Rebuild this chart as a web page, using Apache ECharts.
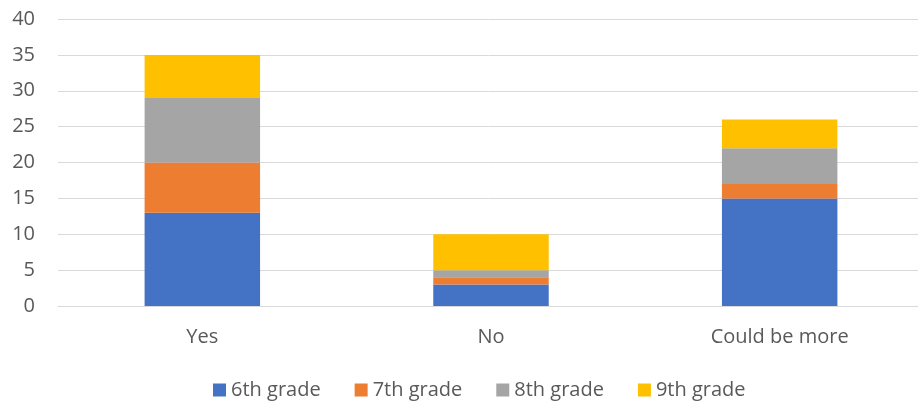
<!DOCTYPE html>
<html><head><meta charset="utf-8">
<script src="https://cdn.jsdelivr.net/npm/echarts@6/dist/echarts.min.js"></script>
<style>html,body{margin:0;padding:0;background:#fff}#c{width:918px;height:405px}</style>
</head><body><div id="c"></div>
<script>
const categories = ['Yes', 'No', 'Could be more'];
const seriesNames = ['6th grade', '7th grade', '8th grade', '9th grade'];
const grade6 = [13, 3, 15];
const grade7 = [7, 1, 2];
const grade8 = [9, 1, 5];
const grade9 = [6, 5, 4];
const colors = ['#4472C4', '#ED7D31', '#A5A5A5', '#FFC000'];
const values = [grade6, grade7, grade8, grade9];
const chart = echarts.init(document.getElementById('c'));
const font = 'Open Sans';
chart.setOption({
  animation: false,
  grid: {left: 58, width: 866, top: 19, bottom: 99, outerBoundsMode: 'none', containLabel: false},
  legend: {
    top: 380, left: 213, padding: 0, itemWidth: 13, itemHeight: 13, itemGap: 34,
    icon: 'rect',
    textStyle: {color: '#595959', fontSize: 20, fontFamily: font}
  },
  xAxis: {
    type: 'category', data: categories,
    axisLine: {lineStyle: {color: '#D9D9D9', width: 1}},
    axisTick: {show: false},
    axisLabel: {color: '#595959', fontSize: 20, fontFamily: font, margin: 21}
  },
  yAxis: {
    type: 'value', min: 0, max: 40, interval: 5,
    axisLine: {show: false}, axisTick: {show: false},
    splitLine: {lineStyle: {color: '#D9D9D9', width: 1}},
    axisLabel: {color: '#595959', fontSize: 20, fontFamily: font, margin: 23}
  },
  series: seriesNames.map((n, i) => ({
    name: n, type: 'bar', stack: 'total', data: values[i],
    barWidth: '40%', itemStyle: {color: colors[i]}
  }))
});
</script></body></html>
